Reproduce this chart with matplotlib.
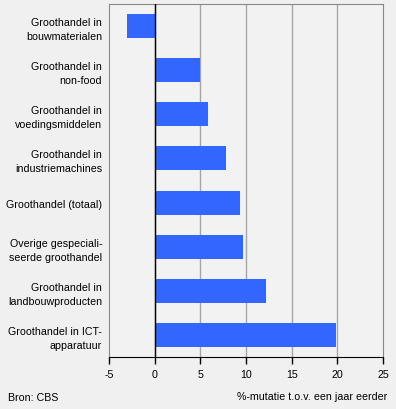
import matplotlib
matplotlib.use("Agg")
import matplotlib.pyplot as plt

categories = ["Groothandel in\nbouwmaterialen", "Groothandel in\nnon-food",
              "Groothandel in\nvoedingsmiddelen", "Groothandel in\nindustriemachines",
              "Groothandel (totaal)", "Overige gespeciali-\nseerde groothandel",
              "Groothandel in\nlandbouwproducten", "Groothandel in ICT-\napparatuur"]
values = [-3.0, 5.0, 5.8, 7.8, 9.3, 9.7, 12.2, 19.8]
xticks = [-5, 0, 5, 10, 15, 20, 25]

plt.rcParams['font.family'] = ['Liberation Sans', 'DejaVu Sans']
fs = 7.7

fig = plt.figure(figsize=(3.96, 4.10), dpi=100, facecolor='#f0f0f0')
ax = fig.add_axes([109/396, 52/410, 274/396, 353/410])
ax.set_facecolor('#f2f2f2')

pos = list(range(len(categories)))
ax.barh(pos, values, height=0.545, color='#3366ff', zorder=3)
ax.set_ylim(len(categories) - 0.5, -0.5)
ax.set_xlim(-5, 25)

## gridlines and zero line
for x in xticks[1:-1]:
    ax.axvline(x, color='#a6a6a6', lw=1, zorder=1)
ax.axvline(0, color='black', lw=1, zorder=4)

ax.set_yticks(pos)
ax.set_yticklabels(categories, fontsize=fs, linespacing=1.5)
ax.tick_params(axis='y', length=0, pad=5)
ax.set_xticks(xticks)
ax.set_xticklabels([str(t) for t in xticks], fontsize=fs)
ax.tick_params(axis='x', length=5, width=1, color='black', pad=4)

for s in ['top', 'right', 'left']:
    ax.spines[s].set_color('#888888')
ax.spines['bottom'].set_color('black')

fig.text(8/396, 1 - 398/410, "Bron: CBS", fontsize=fs, va='center', ha='left')
fig.text(387/396, 1 - 397/410, "%-mutatie t.o.v. een jaar eerder", fontsize=fs, va='center', ha='right')

fig.savefig("out.png", dpi=100, facecolor=fig.get_facecolor())
